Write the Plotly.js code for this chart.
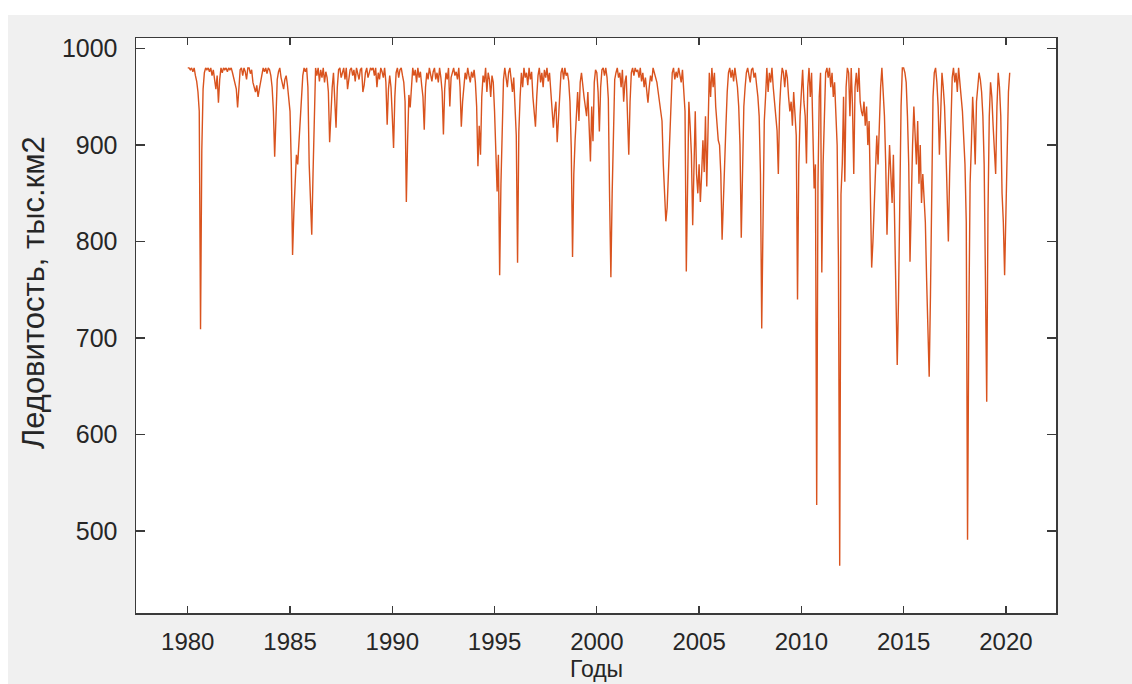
<!DOCTYPE html>
<html>
<head>
<meta charset="utf-8">
<script src="https://cdn.plot.ly/plotly-3.0.1.min.js"></script>
<style>
  html, body { margin: 0; padding: 0; background: #ffffff; width: 1132px; height: 684px; overflow: hidden; }
  #chart { position: absolute; left: 8px; top: 15px; width: 1124px; height: 669px; }
</style>
</head>
<body>
<div id="chart"></div>
<script>
// Ice extent (thousand km2), 16 samples per year
const samplesPerYear = 16;
const startYear = 1980;

const ice1980s = [
  980,980,978,980,976,980,972,966,955,935,709,895,958,975,980,978,
  980,976,980,972,978,965,958,972,944,968,980,975,980,978,980,976,
  980,978,980,975,970,962,958,939,966,978,980,972,980,976,968,980,
  980,974,978,965,960,955,962,950,958,966,972,980,976,980,974,980,
  978,972,960,935,888,940,968,976,980,970,964,958,968,972,962,950,
  935,880,786,830,872,890,880,905,918,950,972,980,976,980,960,880,
  840,807,870,945,980,972,980,966,978,970,980,965,976,970,955,903,
  935,960,975,950,918,960,978,980,970,975,980,968,980,958,972,978,
  980,972,978,966,980,975,968,978,980,955,962,975,980,970,976,980,
  978,980,972,980,960,975,968,980,976,970,980,965,921,958,972,960
];

const ice1990s = [
  930,897,950,975,980,970,978,980,972,965,945,841,905,952,939,968,
  980,972,978,965,980,970,976,962,950,916,960,975,968,980,972,966,
  976,980,968,975,965,980,970,955,911,958,975,968,980,940,970,976,
  980,972,976,968,980,960,919,945,965,975,968,980,972,965,976,970,
  978,965,940,878,920,890,950,972,965,980,955,975,968,950,972,965,
  935,900,852,890,765,860,930,968,980,972,960,975,980,968,955,970,
  945,910,778,914,950,975,960,980,970,975,962,980,968,976,950,935,
  919,950,972,980,965,975,960,978,970,980,966,975,958,940,918,935,
  945,903,930,960,975,980,968,980,972,975,966,945,897,784,870,905,
  935,955,925,965,975,960,950,940,930,955,920,883,940,904,965,978
];

const ice2000s = [
  975,955,914,960,978,980,972,980,970,948,845,763,850,930,968,975,
  980,970,975,960,978,945,965,972,935,890,945,975,980,972,980,976,
  978,970,980,966,975,960,970,955,944,960,972,966,980,975,970,965,
  955,945,940,925,880,845,821,835,870,910,960,975,980,968,976,970,
  980,972,965,978,960,935,769,880,945,920,890,817,900,935,870,850,
  880,841,870,905,872,930,857,940,975,950,980,960,975,940,920,905,
  900,870,802,850,885,920,955,975,980,970,978,966,980,972,960,940,
  900,804,880,940,960,975,980,972,965,978,980,970,975,962,950,930,
  870,710,840,925,950,980,955,975,965,980,960,945,930,915,870,940,
  965,980,975,960,978,970,950,935,945,920,955,935,910,740,880,930
];

const ice2010s = [
  955,978,945,930,881,960,980,950,975,905,855,880,527,860,950,975,
  768,880,940,975,980,970,980,960,975,950,965,935,900,780,464,849,
  880,950,862,960,980,975,930,980,940,870,960,975,955,980,945,935,
  930,945,920,940,900,925,850,773,800,840,870,910,880,925,960,980,
  960,930,880,807,860,900,870,840,890,820,760,672,740,850,940,980,
  980,975,965,930,880,779,850,900,940,915,880,925,860,900,840,870,
  850,820,760,720,660,745,880,950,975,980,965,940,890,925,975,960,
  940,900,850,800,870,935,970,980,965,975,955,980,960,950,935,910,
  880,820,491,717,860,900,950,920,880,945,960,975,968,955,930,880,
  760,634,830,930,965,950,920,900,870,940,975,960,930,850,820,765
];

const ice2020s = [840,900,955,975];

const xTickVals = [1980,1985,1990,1995,2000,2005,2010,2015,2020];
const yTickVals = [500,600,700,800,900,1000];

const xLabel = "Годы";
const yLabel = "Ледовитость, тыс.км2";

const values = [].concat(ice1980s, ice1990s, ice2000s, ice2010s, ice2020s);
const times = values.map((v, k) => startYear + k / samplesPerYear);

const axisColor = '#3a3a3a';
const textColor = '#262626';
const fontFam = 'Liberation Sans, Arial, Helvetica, sans-serif';

const trace = {
  x: times,
  y: values,
  type: 'scatter',
  mode: 'lines',
  line: { color: '#d9531e', width: 1.4 },
  hoverinfo: 'skip'
};

const layout = {
  width: 1124,
  height: 669,
  margin: { l: 128, r: 76, t: 23, b: 71 },
  paper_bgcolor: '#f0f0f0',
  plot_bgcolor: '#ffffff',
  showlegend: false,
  font: { family: fontFam, color: textColor },
  xaxis: {
    range: [1977.47, 2022.45],
    tickvals: xTickVals,
    ticktext: xTickVals.map(String),
    ticks: 'inside',
    ticklen: 7,
    tickwidth: 1.3,
    tickcolor: axisColor,
    showline: true,
    linecolor: axisColor,
    linewidth: 1.5,
    mirror: 'ticks',
    showgrid: false,
    zeroline: false,
    ticklabelstandoff: 7,
    tickfont: { size: 24, color: textColor, family: fontFam }
  },
  yaxis: {
    range: [415, 1011],
    tickvals: yTickVals,
    ticktext: yTickVals.map(String),
    ticks: 'inside',
    ticklen: 9,
    tickwidth: 1.3,
    tickcolor: axisColor,
    showline: true,
    linecolor: axisColor,
    linewidth: 1.5,
    mirror: 'ticks',
    showgrid: false,
    zeroline: false,
    ticklabelstandoff: 12,
    tickfont: { size: 25, color: textColor, family: fontFam }
  },
  annotations: [
    {
      text: yLabel,
      xref: 'paper', yref: 'paper',
      x: -0.112, y: 0.558,
      xanchor: 'center', yanchor: 'middle',
      textangle: -90,
      showarrow: false,
      font: { size: 31, color: textColor, family: fontFam }
    },
    {
      text: xLabel,
      xref: 'paper', yref: 'paper',
      x: 0.501, y: -0.1235,
      xanchor: 'center', yanchor: 'bottom',
      showarrow: false,
      font: { size: 23, color: textColor, family: fontFam }
    }
  ]
};

Plotly.newPlot('chart', [trace], layout, { displayModeBar: false, staticPlot: true });
</script>
</body>
</html>
